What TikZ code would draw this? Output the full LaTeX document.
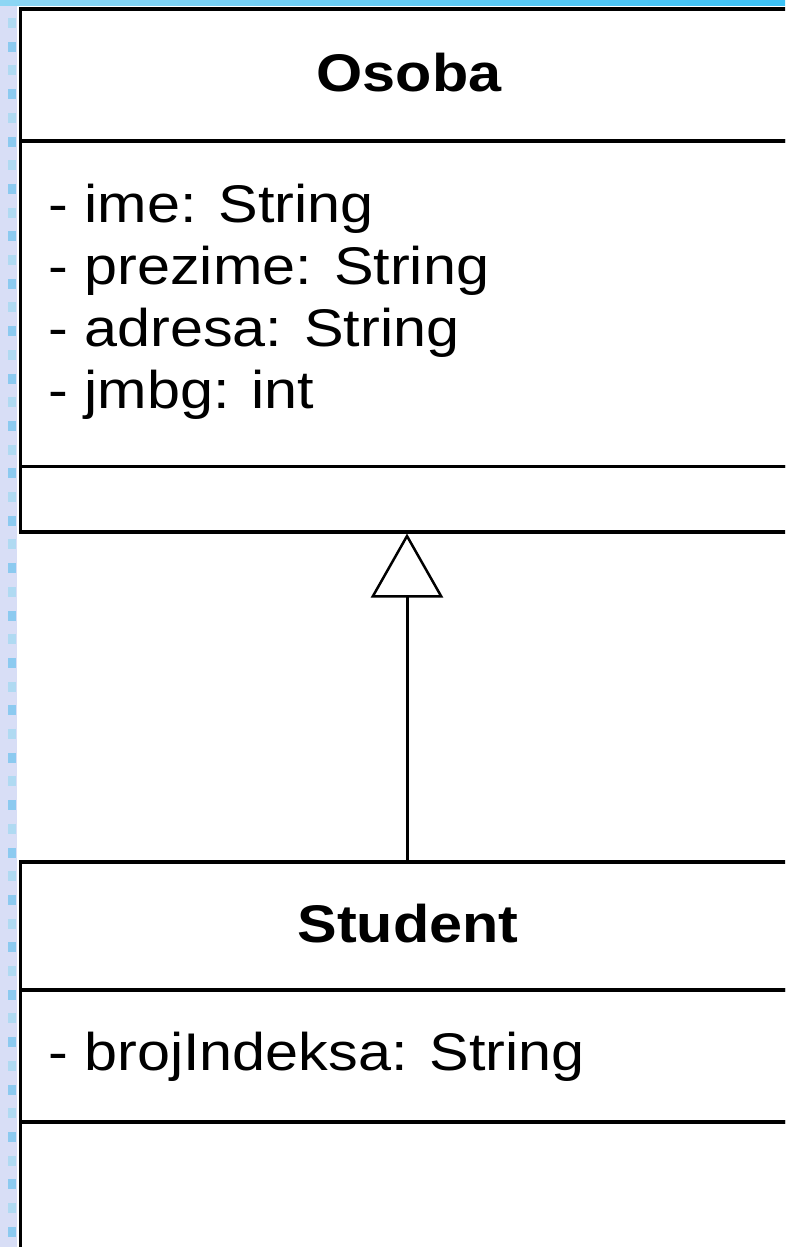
\documentclass[tikz,border=0pt]{standalone}
\usepackage{fontspec}
\usetikzlibrary{arrows.meta}
\newfontfamily\umlfont[FakeStretch=1.12]{Liberation Sans}
\definecolor{stripbg}{HTML}{D8DEF6}
\definecolor{sqlight}{HTML}{B0DAF2}
\definecolor{sqdark}{HTML}{8CCAF0}
\definecolor{bandleft}{HTML}{8ED6F4}
\definecolor{bandright}{HTML}{3CC2F6}
\tikzset{
  compartment/.style={draw=black, line width=3.5pt, fill=white, rectangle,
    anchor=north west, inner sep=0pt, minimum width=900pt},
  umltext/.style={font=\umlfont\fontsize{53}{62}\selectfont, inner sep=0pt},
  classname/.style={umltext, font=\umlfont\bfseries\fontsize{53}{62}\selectfont, anchor=base},
  attribute/.style={umltext, anchor=base west},
  generalization/.style={line width=3pt, -{Triangle[open, length=64pt, width=72pt, line width=2.5pt]}}
}
\begin{document}
\begin{tikzpicture}[x=1pt, y=-1pt]
  \useasboundingbox (0,0) rectangle (785,1247);
  \clip (0,0) rectangle (785,1247);
  % page background
  \fill[white] (0,0) rectangle (785,1247);
  \fill[stripbg] (0,0) rectangle (17,1247);
  \foreach \i in {0,...,52} {
    \pgfmathsetmacro{\yy}{18+23.7*\i}
    \ifodd\i
      \fill[sqdark] (8,\yy) rectangle (16,\yy+10);
    \else
      \fill[sqlight] (8,\yy) rectangle (16,\yy+10);
    \fi
  }
  \shade[left color=bandleft, right color=bandright] (0,0) rectangle (785,6);

  % class Osoba
  \node[compartment, minimum height=131.5pt] (osoba-name) at (18.5,7.5) {};
  \node[compartment, minimum height=325.5pt] (osoba-attr) at (18.5,139) {};
  \node[compartment, minimum height=65.5pt] (osoba-ops) at (18.5,464.5) {};
  \node[classname] (osoba-title) at (409,92) {Osoba};
  \node[attribute] (osoba-a1) at (48,222) {- ime: String};
  \node[attribute] (osoba-a2) at (48,284) {- prezime: String};
  \node[attribute] (osoba-a3) at (48,346) {- adresa: String};
  \node[attribute] (osoba-a4) at (48,408) {- jmbg: int};

  % class Student
  \node[compartment, minimum height=128pt] (student-name) at (18.5,860) {};
  \node[compartment, minimum height=132pt] (student-attr) at (18.5,988) {};
  \node[compartment, minimum height=200pt] (student-ops) at (18.5,1120) {};
  \node[classname] (student-title) at (408,942) {Student};
  \node[attribute] (student-a1) at (48,1070) {- brojIndeksa: String};

  % inheritance: Student is an Osoba
  \coordinate (apex) at ([xshift=388.5pt]osoba-ops.south west);
  \coordinate (foot) at ([xshift=388.5pt]student-name.north west);
  \draw[generalization] (foot) -- (apex);
\end{tikzpicture}
\end{document}
